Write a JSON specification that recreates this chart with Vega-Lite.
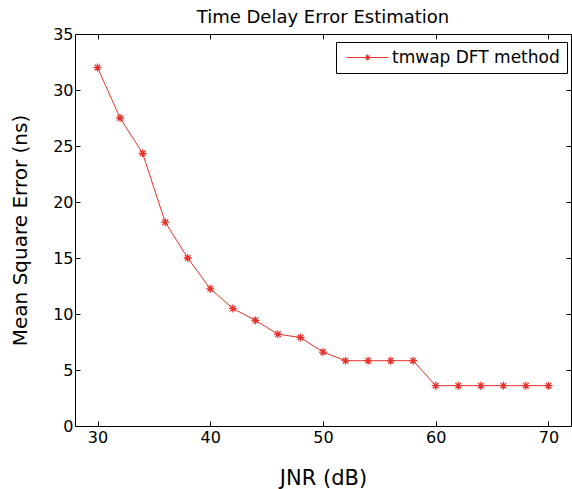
{
  "$schema": "https://vega.github.io/schema/vega-lite/v6.json",
  "width": 496,
  "height": 392,
  "autosize": "none",
  "padding": {"left": 75, "top": 34, "right": 1, "bottom": 63},
  "background": "white",
  "config": {
    "view": {"stroke": null},
    "font": "DejaVu Sans",
    "axis": {
      "domainColor": "black",
      "domainWidth": 1,
      "tickColor": "black",
      "tickSize": -5,
      "tickWidth": 1,
      "labelColor": "black",
      "labelFont": "DejaVu Sans",
      "labelFontSize": 16,
      "titleFont": "DejaVu Sans",
      "titleFontSize": 21,
      "titleFontWeight": "normal",
      "titleColor": "black",
      "grid": false,
      "labelFlush": false,
      "labelOverlap": false
    }
  },
  "title": {
    "text": "Time Delay Error Estimation",
    "fontSize": 18,
    "fontWeight": "normal",
    "font": "DejaVu Sans",
    "color": "black",
    "offset": -1
  },
  "data": {
    "values": [
      {"jnr": 30, "mse": 32.0},
      {"jnr": 32, "mse": 27.5},
      {"jnr": 34, "mse": 24.35},
      {"jnr": 36, "mse": 18.2},
      {"jnr": 38, "mse": 15.0},
      {"jnr": 40, "mse": 12.25},
      {"jnr": 42, "mse": 10.5},
      {"jnr": 44, "mse": 9.43},
      {"jnr": 46, "mse": 8.2},
      {"jnr": 48, "mse": 7.9},
      {"jnr": 50, "mse": 6.6},
      {"jnr": 52, "mse": 5.83},
      {"jnr": 54, "mse": 5.83},
      {"jnr": 56, "mse": 5.83},
      {"jnr": 58, "mse": 5.83},
      {"jnr": 60, "mse": 3.6},
      {"jnr": 62, "mse": 3.6},
      {"jnr": 64, "mse": 3.6},
      {"jnr": 66, "mse": 3.6},
      {"jnr": 68, "mse": 3.6},
      {"jnr": 70, "mse": 3.6}
    ]
  },
  "layer": [
    {
      "mark": {"type": "line", "strokeWidth": 1},
      "encoding": {
        "x": {
          "field": "jnr", "type": "quantitative",
          "scale": {"domain": [28, 72], "nice": false, "zero": false},
          "axis": {"orient": "bottom", "title": "JNR (dB)", "values": [30, 40, 50, 60, 70], "labelPadding": 8, "titlePadding": 22}
        },
        "y": {
          "field": "mse", "type": "quantitative",
          "scale": {"domain": [0, 35], "nice": false},
          "axis": {"orient": "left", "title": "Mean Square Error (ns)", "titleFontSize": 20, "values": [0, 5, 10, 15, 20, 25, 30, 35], "labelPadding": 7, "titlePadding": 22}
        },
        "color": {
          "datum": "tmwap DFT method",
          "type": "nominal",
          "scale": {"range": ["#e5322d"]},
          "legend": {
            "orient": "none",
            "legendX": 261,
            "legendY": 8,
            "title": null,
            "strokeColor": "black",
            "fillColor": "white",
            "padding": 7,
            "cornerRadius": 0,
            "symbolType": "M-0.7,0H5.3M2.3,-0.43V0.43M1.87,0H2.73M2,-0.3L2.6,0.3M2,0.3L2.6,-0.3",
            "symbolSize": 196,
            "symbolStrokeWidth": 1.2,
            "symbolStrokeColor": "#e5322d",
            "symbolFillColor": "transparent",
            "labelFontSize": 17,
            "labelFont": "DejaVu Sans",
            "labelColor": "black",
            "labelOffset": 32,
            "labelLimit": 400
          }
        }
      }
    },
    {
      "mark": {
        "type": "point",
        "shape": "M0,-1V1M-1,0H1M-0.7,-0.7L0.7,0.7M-0.7,0.7L0.7,-0.7",
        "size": 64,
        "filled": false,
        "strokeWidth": 1.3,
        "color": "#e5322d",
        "opacity": 1
      },
      "encoding": {
        "x": {
          "field": "jnr", "type": "quantitative",
          "scale": {"domain": [28, 72], "nice": false, "zero": false},
          "axis": {"orient": "top", "title": null, "labels": false, "values": [30, 40, 50, 60, 70]}
        },
        "y": {
          "field": "mse", "type": "quantitative",
          "scale": {"domain": [0, 35], "nice": false},
          "axis": {"orient": "right", "title": null, "labels": false, "values": [0, 5, 10, 15, 20, 25, 30, 35]}
        }
      }
    }
  ],
  "resolve": {"axis": {"x": "independent", "y": "independent"}}
}
